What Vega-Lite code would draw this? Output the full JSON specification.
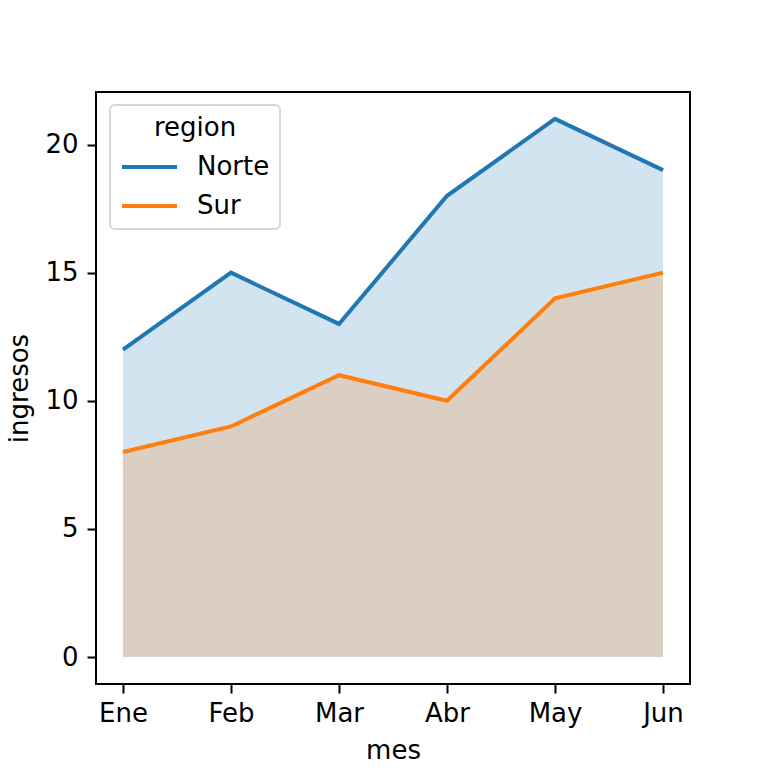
{
  "$schema": "https://vega.github.io/schema/vega-lite/v6.json",
  "width": 594,
  "height": 592,
  "autosize": {"type": "none"},
  "padding": {"left": 96, "top": 92, "right": 78, "bottom": 84},
  "background": "white",
  "config": {
    "font": "DejaVu Sans",
    "view": {"stroke": "black", "strokeWidth": 2},
    "axis": {
      "domain": false,
      "grid": false,
      "labelFont": "DejaVu Sans",
      "labelFontSize": 26,
      "labelColor": "black",
      "tickColor": "black",
      "tickSize": 9,
      "tickWidth": 2,
      "labelPadding": 7,
      "titleFont": "DejaVu Sans",
      "titleFontSize": 26,
      "titleFontWeight": "normal",
      "titleColor": "black"
    }
  },
  "data": {
    "values": [
      {"mes": "Ene", "region": "Norte", "ingresos": 12},
      {"mes": "Feb", "region": "Norte", "ingresos": 15},
      {"mes": "Mar", "region": "Norte", "ingresos": 13},
      {"mes": "Abr", "region": "Norte", "ingresos": 18},
      {"mes": "May", "region": "Norte", "ingresos": 21},
      {"mes": "Jun", "region": "Norte", "ingresos": 19},
      {"mes": "Ene", "region": "Sur", "ingresos": 8},
      {"mes": "Feb", "region": "Sur", "ingresos": 9},
      {"mes": "Mar", "region": "Sur", "ingresos": 11},
      {"mes": "Abr", "region": "Sur", "ingresos": 10},
      {"mes": "May", "region": "Sur", "ingresos": 14},
      {"mes": "Jun", "region": "Sur", "ingresos": 15}
    ]
  },
  "encoding": {
    "x": {
      "field": "mes",
      "type": "ordinal",
      "sort": ["Ene", "Feb", "Mar", "Abr", "May", "Jun"],
      "scale": {"type": "point", "padding": 0.25},
      "axis": {"labelAngle": 0, "title": "mes", "titlePadding": 11}
    },
    "y": {
      "field": "ingresos",
      "type": "quantitative",
      "scale": {"domain": [-1.05, 22.05], "nice": false, "zero": false},
      "axis": {"values": [0, 5, 10, 15, 20], "title": "ingresos", "titlePadding": 12, "labelPadding": 9}
    },
    "color": {
      "field": "region",
      "type": "nominal",
      "scale": {"domain": ["Norte", "Sur"], "range": ["#1f77b4", "#ff7f0e"]},
      "legend": {
        "orient": "none",
        "legendX": 14,
        "legendY": 13,
        "title": "region",
        "titleFont": "DejaVu Sans",
        "titleFontSize": 26,
        "titleFontWeight": "normal",
        "titleColor": "black",
        "titleAnchor": "middle",
        "titlePadding": 13,
        "labelFont": "DejaVu Sans",
        "labelFontSize": 26,
        "labelColor": "black",
        "labelOffset": 18,
        "symbolType": "stroke",
        "symbolSize": 3025,
        "symbolStrokeWidth": 4,
        "symbolOpacity": 1,
        "clipHeight": 26,
        "rowPadding": 13,
        "padding": 10,
        "strokeColor": "#d6d6d6",
        "cornerRadius": 5,
        "fillColor": "white",
        "encode": {"legend": {"update": {"strokeWidth": {"value": 2}}}}
      }
    }
  },
  "layer": [
    {
      "mark": {"type": "area", "opacity": 0.2},
      "encoding": {"y": {"field": "ingresos", "type": "quantitative", "stack": null}}
    },
    {
      "mark": {"type": "line", "strokeWidth": 4}
    }
  ]
}
